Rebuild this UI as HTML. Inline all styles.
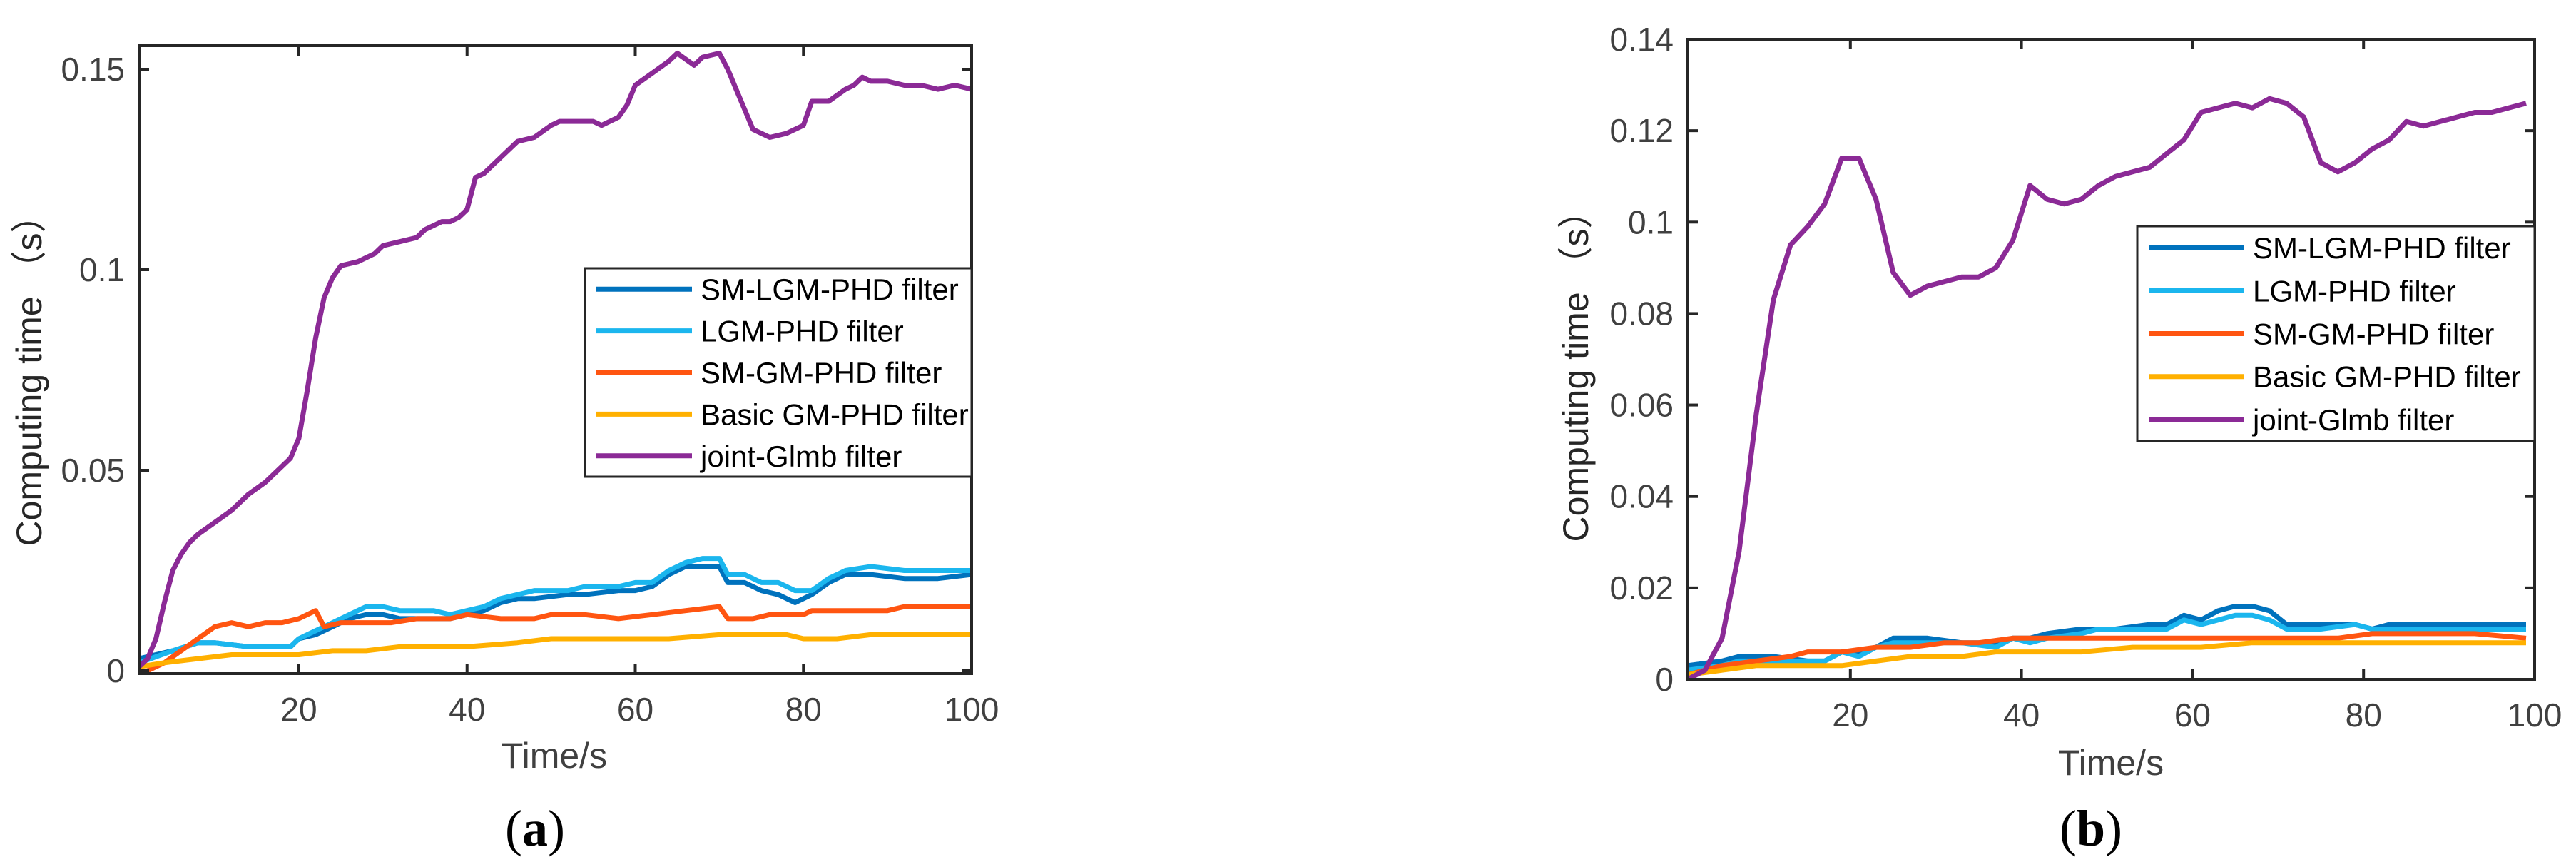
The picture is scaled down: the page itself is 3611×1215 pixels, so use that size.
<!DOCTYPE html>
<html><head><meta charset="utf-8"><style>
html,body{margin:0;padding:0;background:#fff;}
svg{display:block;}
</style></head><body>
<svg id="fig" width="3611" height="1215" viewBox="0 0 3611 1215" xmlns="http://www.w3.org/2000/svg"></svg>
<script>
// ---- Data (a) ----
const aPurpleX=[1,2,3,4,5,6,7,8,10,12,14,16,17,19,20,21,22,23,24,25,27,29,30,32,34,35,37,38,39,40,41,42,44,46,48,50,51,53,55,56,58,59,60,62,64,65,67,68,70,71,72,73,74,76,78,80,81,83,85,86,87,88,90,92,94,96,98,100];
const aPurpleY=[0.001,0.003,0.008,0.017,0.025,0.029,0.032,0.034,0.037,0.040,0.044,0.047,0.049,0.053,0.058,0.070,0.083,0.093,0.098,0.101,0.102,0.104,0.106,0.107,0.108,0.110,0.112,0.112,0.113,0.115,0.123,0.124,0.128,0.132,0.133,0.136,0.137,0.137,0.137,0.136,0.138,0.141,0.146,0.149,0.152,0.154,0.151,0.153,0.154,0.150,0.145,0.140,0.135,0.133,0.134,0.136,0.142,0.142,0.145,0.146,0.148,0.147,0.147,0.146,0.146,0.145,0.146,0.145];
const aBlueX=[1,5,8,10,14,17,19,20,22,24,26,28,30,32,34,36,38,40,42,44,46,48,52,54,58,60,62,64,66,68,70,71,73,75,77,79,81,83,85,88,92,96,100];
const aBlueY=[0.003,0.005,0.007,0.007,0.006,0.006,0.006,0.008,0.009,0.011,0.013,0.014,0.014,0.013,0.013,0.013,0.013,0.014,0.015,0.017,0.018,0.018,0.019,0.019,0.020,0.020,0.021,0.024,0.026,0.026,0.026,0.022,0.022,0.020,0.019,0.017,0.019,0.022,0.024,0.024,0.023,0.023,0.024];
const aCyanX=aBlueX;
const aCyanY=[0.002,0.005,0.007,0.007,0.006,0.006,0.006,0.008,0.010,0.012,0.014,0.016,0.016,0.015,0.015,0.015,0.014,0.015,0.016,0.018,0.019,0.020,0.020,0.021,0.021,0.022,0.022,0.025,0.027,0.028,0.028,0.024,0.024,0.022,0.022,0.020,0.020,0.023,0.025,0.026,0.025,0.025,0.025];
const aOrangeX=[2,4,6,8,10,12,14,16,18,20,22,23,25,28,31,34,38,40,44,48,50,54,58,62,66,70,71,74,76,80,81,85,90,92,96,100];
const aOrangeY=[0.000,0.002,0.005,0.008,0.011,0.012,0.011,0.012,0.012,0.013,0.015,0.011,0.012,0.012,0.012,0.013,0.013,0.014,0.013,0.013,0.014,0.014,0.013,0.014,0.015,0.016,0.013,0.013,0.014,0.014,0.015,0.015,0.015,0.016,0.016,0.016];
const aYellowX=[1,4,8,12,20,24,28,32,36,40,46,50,56,60,64,70,76,78,80,84,88,92,100];
const aYellowY=[0.001,0.002,0.003,0.004,0.004,0.005,0.005,0.006,0.006,0.006,0.007,0.008,0.008,0.008,0.008,0.009,0.009,0.009,0.008,0.008,0.009,0.009,0.009];
// ---- Data (b) ----
const bPurpleX=[1,3,5,7,9,11,13,15,17,19,21,23,25,27,29,31,33,35,37,39,41,43,45,47,49,51,53,55,57,59,61,63,65,67,69,71,73,75,77,79,81,83,85,87,89,91,93,95,97,99];
const bPurpleY=[0.000,0.002,0.009,0.028,0.058,0.083,0.095,0.099,0.104,0.114,0.114,0.105,0.089,0.084,0.086,0.087,0.088,0.088,0.090,0.096,0.108,0.105,0.104,0.105,0.108,0.110,0.111,0.112,0.115,0.118,0.124,0.125,0.126,0.125,0.127,0.126,0.123,0.113,0.111,0.113,0.116,0.118,0.122,0.121,0.122,0.123,0.124,0.124,0.125,0.126];
const bBlueX=[1,5,7,11,15,17,19,21,23,25,27,29,33,37,39,41,43,47,49,51,55,57,59,61,63,65,67,69,71,75,79,81,83,87,91,95,99];
const bBlueY=[0.003,0.004,0.005,0.005,0.004,0.004,0.006,0.006,0.007,0.009,0.009,0.009,0.008,0.008,0.009,0.009,0.010,0.011,0.011,0.011,0.012,0.012,0.014,0.013,0.015,0.016,0.016,0.015,0.012,0.012,0.012,0.011,0.012,0.012,0.012,0.012,0.012];
const bCyanX=[1,5,7,11,15,17,19,21,23,25,29,33,37,39,41,43,47,49,53,57,59,61,63,65,67,69,71,75,79,81,85,91,95,99];
const bCyanY=[0.002,0.003,0.004,0.004,0.004,0.004,0.006,0.005,0.007,0.008,0.008,0.008,0.007,0.009,0.008,0.009,0.010,0.011,0.011,0.011,0.013,0.012,0.013,0.014,0.014,0.013,0.011,0.011,0.012,0.011,0.011,0.011,0.011,0.011];
const bOrangeX=[1,5,9,13,15,19,23,27,31,35,39,45,49,55,57,61,67,71,77,81,87,93,99];
const bOrangeY=[0.001,0.003,0.004,0.005,0.006,0.006,0.007,0.007,0.008,0.008,0.009,0.009,0.009,0.009,0.009,0.009,0.009,0.009,0.009,0.010,0.010,0.010,0.009];
const bYellowX=[1,5,9,13,19,23,27,33,37,41,47,53,57,61,67,75,81,87,93,99];
const bYellowY=[0.001,0.002,0.003,0.003,0.003,0.004,0.005,0.005,0.006,0.006,0.006,0.007,0.007,0.007,0.008,0.008,0.008,0.008,0.008,0.008];
const aYTicks=[0,0.05,0.1,0.15];
const aYTickLabels=["0","0.05","0.1","0.15"];
const bYTicks=[0,0.02,0.04,0.06,0.08,0.1,0.12,0.14];
const bYTickLabels=["0","0.02","0.04","0.06","0.08","0.1","0.12","0.14"];
const xTicks=[20,40,60,80,100];
const xTickLabels=["20","40","60","80","100"];
const legendLabels=["SM-LGM-PHD filter","LGM-PHD filter","SM-GM-PHD filter","Basic GM-PHD filter","joint-Glmb filter"];
const colors=["#0072BD","#1BB6EE","#FF5511","#FFB000","#8B2A96"];

const NS="http://www.w3.org/2000/svg";
const svg=document.getElementById('fig');
function mk(tag,attrs,parent){const e=document.createElementNS(NS,tag);for(const k in attrs)e.setAttribute(k,attrs[k]);(parent||svg).appendChild(e);return e;}

function panel(p){
  const g=mk('g',{});
  
  
  const X=v=>p.L+(v-p.xmin)/(p.xmax-p.xmin)*(p.R-p.L);
  const Y=v=>p.B-(v-p.ymin)/(p.ymax-p.ymin)*(p.B-p.T);
  const clipId=p.name+'-clip';
  const cp=mk('clipPath',{id:clipId},g);mk('rect',{x:p.L,y:p.T-4,width:p.R-p.L,height:p.B-p.T+8},cp);
  p.series.forEach((s,i)=>{
    const d=s.x.map((xv,j)=>(j?'L':'M')+X(xv).toFixed(1)+' '+Y(s.y[j]).toFixed(1)).join(' ');
    const path=mk('path',{d:d,fill:'none',stroke:colors[i],'stroke-width':7,'stroke-linejoin':'round','clip-path':'url(#'+clipId+')'},g);
    
    
  });
  const box=mk('rect',{x:p.L,y:p.T,width:p.R-p.L,height:p.B-p.T,fill:'none',stroke:'#262626','stroke-width':4},g);
  
  
  p.yTicks.forEach((v,i)=>{
    const y=Y(v);
    mk('line',{x1:p.L,x2:p.L+14,y1:y,y2:y,stroke:'#262626','stroke-width':4},g);
    mk('line',{x1:p.R,x2:p.R-14,y1:y,y2:y,stroke:'#262626','stroke-width':4},g);
    const t=mk('text',{x:p.L-20,y:y+16,'text-anchor':'end','font-family':'Liberation Sans, sans-serif','font-size':46,fill:'#404040'},g);
    t.textContent=p.yLabels[i];
    
    
  });
  xTicks.forEach((v,i)=>{
    const x=X(v);
    mk('line',{x1:x,x2:x,y1:p.B,y2:p.B-14,stroke:'#262626','stroke-width':4},g);
    mk('line',{x1:x,x2:x,y1:p.T,y2:p.T+14,stroke:'#262626','stroke-width':4},g);
    const t=mk('text',{x:x,y:p.B+66,'text-anchor':'middle','font-family':'Liberation Sans, sans-serif','font-size':46,fill:'#404040'},g);
    t.textContent=xTickLabels[i];
    
    
  });
  const xt=mk('text',{x:p.xtX,y:p.xtY,'text-anchor':'middle','font-family':'Liberation Sans, sans-serif','font-size':50,fill:'#404040'},g);
  xt.textContent='Time/s';
  
  
  const yt=mk('text',{x:0,y:0,'text-anchor':'middle','font-family':'Liberation Sans, Noto Sans CJK SC, sans-serif','font-size':50,fill:'#262626',transform:'translate('+p.ytX+','+p.ytY+') rotate(-90)'},g);
  yt.textContent='Computing time （s）';
  
  
  const lg=mk('g',{},g);
  
  
  mk('rect',{x:p.lgL,y:p.lgT,width:p.R-p.lgL,height:p.lgB-p.lgT,fill:'#fff',stroke:'#262626','stroke-width':3},lg);
  const rowH=(p.lgB-p.lgT)/5;
  legendLabels.forEach((lab,i)=>{
    const cy=p.lgT+rowH*(i+0.5);
    const e=mk('g',{},lg);
    
    
    mk('line',{x1:p.lgL+16,x2:p.lgL+150,y1:cy,y2:cy,stroke:colors[i],'stroke-width':7},e);
    const t=mk('text',{x:p.lgL+162,y:cy+15,'font-family':'Liberation Sans, sans-serif','font-size':42,fill:'#000'},e);
    t.textContent=lab;
  });
  const cap=mk('text',{x:p.capX,y:p.capY,'text-anchor':'middle','font-family':'Liberation Serif, serif','font-size':72,fill:'#000'},g);
  cap.innerHTML='(<tspan font-weight="bold">'+p.cap+'</tspan>)';
  
  
}
panel({name:'chart-a',L:195,R:1362,T:64,B:944,xmin:1,xmax:100,ymin:-0.00071,ymax:0.15587,
  yTicks:aYTicks,yLabels:aYTickLabels,xtX:777,xtY:1076,ytX:58,ytY:521,lgL:820,lgT:376,lgB:668,capX:750,capY:1185,cap:'a',
  series:[{x:aBlueX,y:aBlueY},{x:aCyanX,y:aCyanY},{x:aOrangeX,y:aOrangeY},{x:aYellowX,y:aYellowY},{x:aPurpleX,y:aPurpleY}]});
panel({name:'chart-b',L:2366,R:3553,T:55,B:952,xmin:1,xmax:100,ymin:0,ymax:0.14,
  yTicks:bYTicks,yLabels:bYTickLabels,xtX:2959,xtY:1086,ytX:2226,ytY:515,lgL:2996,lgT:317,lgB:618,capX:2931,capY:1185,cap:'b',
  series:[{x:bBlueX,y:bBlueY},{x:bCyanX,y:bCyanY},{x:bOrangeX,y:bOrangeY},{x:bYellowX,y:bYellowY},{x:bPurpleX,y:bPurpleY}]});
</script>
</body></html>
